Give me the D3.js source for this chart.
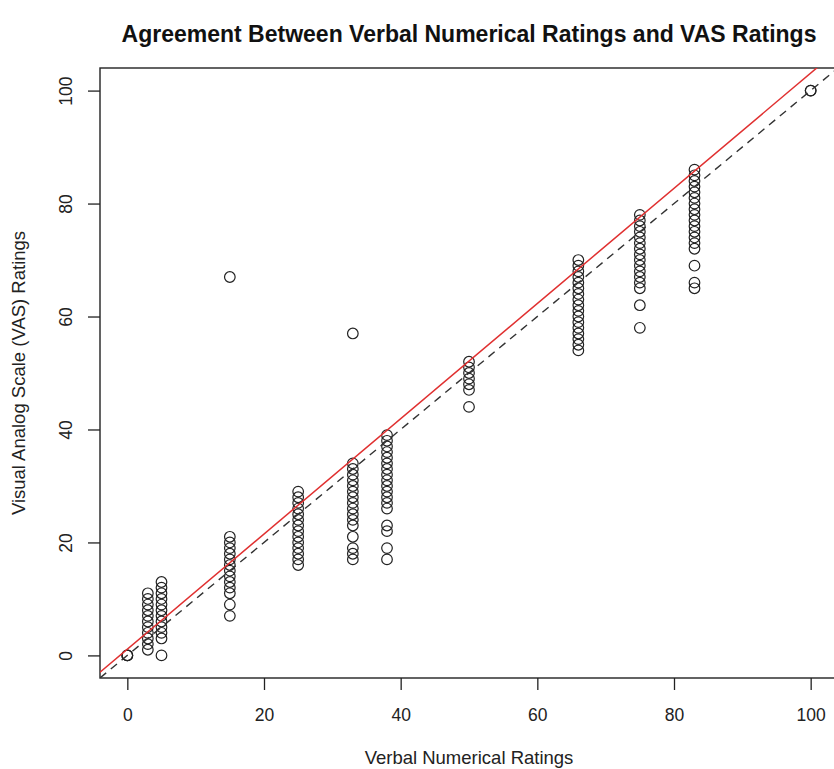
<!DOCTYPE html>
<html>
<head>
<meta charset="utf-8">
<script src="https://cdn.jsdelivr.net/npm/d3@7"></script>
<style>
  body { margin: 0; background: #fff; }
  svg { display: block; font-family: "Liberation Sans", Arial, sans-serif; }
</style>
</head>
<body>
<div id="chart"></div>
<script>
// verbal rating levels and the VAS ratings observed at each
var verbalLevels = [0, 3, 5, 15, 25, 33, 38, 50, 66, 75, 83, 100];
var vasRatings = [
  [0, 0, 0],
  [1, 2, 3, 4, 5, 6, 7, 8, 9, 10, 11],
  [0, 3, 4, 5, 6, 7, 8, 9, 10, 11, 12, 13],
  [7, 9, 11, 12, 13, 14, 15, 16, 17, 18, 19, 20, 21, 67],
  [16, 17, 18, 19, 20, 21, 22, 23, 24, 25, 26, 27, 28, 29],
  [17, 18, 19, 21, 23, 24, 25, 26, 27, 28, 29, 30, 31, 32, 33, 34, 57],
  [17, 19, 22, 23, 26, 27, 28, 29, 30, 31, 32, 33, 34, 35, 36, 37, 38, 39],
  [44, 47, 48, 49, 50, 51, 52],
  [54, 55, 56, 57, 58, 59, 60, 61, 62, 63, 64, 65, 66, 67, 68, 69, 70],
  [58, 62, 65, 66, 67, 68, 69, 70, 71, 72, 73, 74, 75, 76, 77, 78],
  [65, 66, 69, 72, 73, 74, 75, 76, 77, 78, 79, 80, 81, 82, 83, 84, 85, 86],
  [100, 100]
];
var xTicks = [0, 20, 40, 60, 80, 100];
var yTicks = [0, 20, 40, 60, 80, 100];
// fitted regression line (red) and line of identity (dashed)
var fitIntercept = 1.1;
var fitSlope = 1.02;

var width = 834, height = 769;
var margin = {left: 100, top: 68, right: -4, bottom: 91};

var points = [];
verbalLevels.forEach(function(v, i) {
  vasRatings[i].forEach(function(r) { points.push({x: v, y: r}); });
});

var x = d3.scaleLinear().domain([-4, 104]).range([margin.left, width - margin.right]);
var y = d3.scaleLinear().domain([-4, 104]).range([height - margin.bottom, margin.top]);

var svg = d3.select("#chart").append("svg")
  .attr("width", width)
  .attr("height", height);

svg.append("defs").append("clipPath").attr("id", "plotclip")
  .append("rect")
  .attr("x", x(-4)).attr("y", y(104))
  .attr("width", x(104) - x(-4)).attr("height", y(-4) - y(104));

// title
svg.append("text")
  .attr("x", (x(-4) + x(104)) / 2)
  .attr("y", 42)
  .attr("text-anchor", "middle")
  .style("font-size", "23px")
  .style("font-weight", "bold")
  .style("fill", "#111")
  .text("Agreement Between Verbal Numerical Ratings and VAS Ratings");

// axes
var xAxis = svg.append("g")
  .attr("transform", "translate(0," + (height - margin.bottom) + ")")
  .call(d3.axisBottom(x).tickValues(xTicks).tickSize(12).tickPadding(19).tickSizeOuter(0));
xAxis.select(".domain").remove();
xAxis.selectAll("line").attr("stroke", "#222").attr("stroke-width", 1.3);
xAxis.selectAll("text").style("font-size", "17.5px").style("fill", "#222")
  .style("font-family", "Liberation Sans, Arial, sans-serif");

var yAxis = svg.append("g")
  .attr("transform", "translate(" + margin.left + ",0)")
  .call(d3.axisLeft(y).tickValues(yTicks).tickSize(12).tickSizeOuter(0));
yAxis.select(".domain").remove();
yAxis.selectAll("line").attr("stroke", "#222").attr("stroke-width", 1.3);
yAxis.selectAll("text")
  .attr("x", 0).attr("dy", 0)
  .attr("text-anchor", "middle")
  .attr("transform", function(d) { return "translate(" + (-28) + ",0) rotate(-90)"; })
  .style("font-size", "17.5px").style("fill", "#222")
  .style("font-family", "Liberation Sans, Arial, sans-serif");

// axis titles
svg.append("text")
  .attr("x", (x(-4) + x(104)) / 2)
  .attr("y", 764)
  .attr("text-anchor", "middle")
  .style("font-size", "18.5px")
  .style("fill", "#222")
  .text("Verbal Numerical Ratings");

svg.append("text")
  .attr("transform", "translate(25," + ((y(-4) + y(104)) / 2) + ") rotate(-90)")
  .attr("text-anchor", "middle")
  .style("font-size", "18.5px")
  .style("fill", "#222")
  .text("Visual Analog Scale (VAS) Ratings");

// plot box
svg.append("rect")
  .attr("x", x(-4)).attr("y", y(104))
  .attr("width", x(104) - x(-4)).attr("height", y(-4) - y(104))
  .attr("fill", "none")
  .attr("stroke", "#222")
  .attr("stroke-width", 1.4);

var plot = svg.append("g").attr("clip-path", "url(#plotclip)");

// points
plot.selectAll("circle")
  .data(points)
  .enter()
  .append("circle")
  .attr("cx", function(d) { return x(d.x); })
  .attr("cy", function(d) { return y(d.y); })
  .attr("r", 5.3)
  .attr("fill", "none")
  .attr("stroke", "#222")
  .attr("stroke-width", 1.2);

// identity line
plot.append("line")
  .attr("x1", x(-4)).attr("y1", y(-4))
  .attr("x2", x(104)).attr("y2", y(104))
  .attr("stroke", "#333")
  .attr("stroke-width", 1.4)
  .attr("stroke-dasharray", "8,6");

// regression line
plot.append("line")
  .attr("x1", x(-4)).attr("y1", y(fitIntercept + fitSlope * -4))
  .attr("x2", x(104)).attr("y2", y(fitIntercept + fitSlope * 104))
  .attr("stroke", "#e03030")
  .attr("stroke-width", 1.5);
</script>
</body>
</html>
